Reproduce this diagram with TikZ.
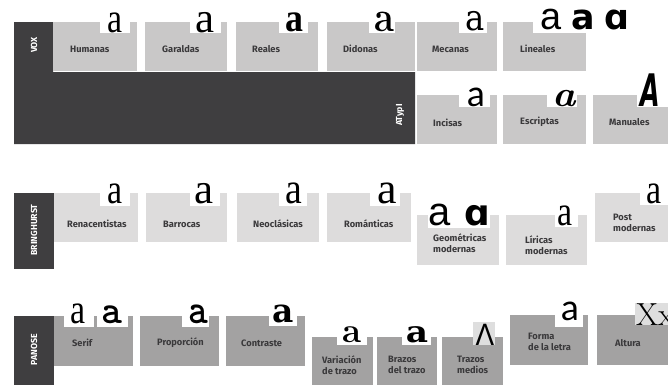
\documentclass[tikz,border=0pt]{standalone}
\usepackage{fontspec}
\usepackage{graphicx}
\newfontfamily\labf{Fira Sans}
\newfontfamily\dvsans{DejaVu Sans}
\newfontfamily\dvserif{DejaVu Serif}
\newfontfamily\lserif{Liberation Serif}
\newfontfamily\lsans{Liberation Sans}
\newfontfamily\latof{Lato}
\definecolor{darkc}{HTML}{3F3E40}
\definecolor{voxc}{HTML}{C9C8C8}
\definecolor{brinc}{HTML}{DDDCDC}
\definecolor{panc}{HTML}{A3A2A2}
\definecolor{labc}{HTML}{3A393B}
\definecolor{glbg}{HTML}{DEDEDE}
\newcommand\nbox[8]{\fill[#8] (#1,#2) rectangle (#3,#4); \fill[white] (#5,#2) rectangle (#6,#7);}
\newcommand\fs[1]{\fontsize{#1}{#1}\selectfont}
\begin{document}
\begin{tikzpicture}[x=1bp,y=-1bp,
  lab/.style={font=\labf\bfseries\fontsize{9.3}{10.5}\selectfont, text=labc, anchor=west, align=left, inner sep=0pt},
  vlab/.style={font=\labf\bfseries\fontsize{8.8}{10}\selectfont, text=white, rotate=90, inner sep=0pt},
  gl/.style={anchor=base, inner sep=0pt, text=black}]
\useasboundingbox (0,0) rectangle (668,385);
\fill[white] (0,0) rectangle (668,385);
% ---------- VOX ----------
\fill[darkc] (14,22) -- (53,22) -- (53,72) -- (415,72) -- (415,144) -- (14,144) -- cycle;
\nbox{53}{22}{137}{71}{100}{130}{33}{voxc}
\nbox{145}{22}{227}{71}{190}{221}{33}{voxc}
\nbox{236}{22}{318}{71}{279}{308}{33}{voxc}
\nbox{327}{22}{415}{71}{369}{395}{33}{voxc}
\nbox{417}{22}{497}{71}{459}{487}{33}{voxc}
\nbox{503}{22}{586}{71}{533}{586}{33}{voxc}
\nbox{417}{95}{497}{144}{459}{490}{107}{voxc}
\nbox{503}{95}{586}{144}{547}{577}{107}{voxc}
\nbox{593}{95}{668}{144}{637}{668}{107}{voxc}
\node[vlab] (vox) at (34,45) {VOX};
\node[vlab] (atypi) at (400,115) {ATypI};
\node[lab] (humanas) at (70,49) {Humanas};
\node[lab] (garaldas) at (162,49) {Garaldas};
\node[lab] (reales) at (252,49) {Reales};
\node[lab] (didonas) at (343,49) {Didonas};
\node[lab] (mecanas) at (432,49) {Mecanas};
\node[lab] (lineales) at (520,49) {Lineales};
\node[lab] (incisas) at (433,123) {Incisas};
\node[lab] (escriptas) at (520,122) {Escriptas};
\node[lab] (manuales) at (609,122) {Manuales};
\node[gl] (gHum) at (115,32) {\lserif\fs{40}\scalebox{0.85}[1.05]{a}};
\node[gl] (gGar) at (205,32) {\lserif\fs{43}a};
\node[gl] (gRea) at (294,31) {\lserif\bfseries\fs{40}\scalebox{0.9}[1]{a}};
\node[gl] (gDid) at (384,31) {\bfseries\fs{43}\scalebox{0.85}[1]{a}};
\node[gl] (gMec) at (475,30) {\dvserif\fs{36}\scalebox{0.9}[1]{a}};
\node[gl] (gLin1) at (551,29) {\lsans\fs{38}a};
\node[gl] (gLin2) at (583,29) {\dvsans\bfseries\fs{35}a};
\node[gl] (gLin3) at (617,29) {\dvsans\bfseries\fs{35}ɑ};
\node[gl] (gInc) at (476,106) {\latof\fs{36}a};
\node[gl] (gEsc) at (564,106) {\bfseries\itshape\fs{36}\scalebox{1.1}[1]{a}};
\node[gl] (gMan) at (650,106) {\dvsans\bfseries\itshape\fs{30}\scalebox{0.85}[1.5]{A}};
% ---------- BRINGHURST ----------
\fill[darkc] (14,193) rectangle (54,269);
\nbox{54}{193}{138}{242}{100}{130}{206}{brinc}
\nbox{146}{193}{227}{242}{190}{220}{206}{brinc}
\nbox{237}{193}{319}{242}{279}{307}{206}{brinc}
\nbox{327}{193}{411}{242}{370}{400}{206}{brinc}
\nbox{417}{215}{499}{265}{428}{490}{228}{brinc}
\nbox{506}{215}{587}{265}{555}{578}{227}{brinc}
\nbox{595}{193}{668}{242}{640}{668}{205}{brinc}
\node[vlab] (bringhurst) at (34,230) {BRINGHURST};
\node[lab] (renac) at (67,224) {Renacentistas};
\node[lab] (barrocas) at (163,224) {Barrocas};
\node[lab] (neoclas) at (253,224) {Neoclásicas};
\node[lab] (romant) at (344,224) {Románticas};
\node[lab] (geomet) at (433,243) {Geométricas\\modernas};
\node[lab] (liricas) at (525,245) {Líricas\\modernas};
\node[lab] (postmod) at (613,223) {Post\\modernas};
\node[gl] (gRen) at (115,203) {\lserif\fs{40}\scalebox{0.85}[1.05]{a}};
\node[gl] (gBar) at (204,203) {\lserif\fs{43}a};
\node[gl] (gNeo) at (294,203) {\lserif\fs{42}\scalebox{0.9}[1.05]{a}};
\node[gl] (gRom) at (387,203) {\lserif\fs{44}a};
\node[gl] (gGeo1) at (440,225) {\lsans\fs{40}a};
\node[gl] (gGeo2) at (477,225) {\dvsans\bfseries\fs{36}ɑ};
\node[gl] (gLir) at (565,225) {\lserif\fs{40}\scalebox{0.85}[1.05]{a}};
\node[gl] (gPost) at (654,203) {\lserif\fs{40}\scalebox{0.85}[1.05]{a}};
% ---------- PANOSE ----------
\fill[darkc] (14,316) rectangle (54,385);
\fill[panc] (54,316) rectangle (133,366);
\fill[white] (64,316) rectangle (94,327);
\fill[white] (97,316) rectangle (128,327);
\nbox{140}{316}{219}{366}{182}{209}{327}{panc}
\nbox{226}{316}{305}{366}{269}{297}{326}{panc}
\nbox{312}{337}{373}{385}{337}{367}{345}{panc}
\nbox{377}{337}{437}{385}{402}{431}{345}{panc}
\fill[panc] (442,337) rectangle (503,385);
\fill[glbg] (473,322) rectangle (495,345);
\nbox{510}{315}{588}{365}{555}{583}{327}{panc}
\fill[panc] (597,315) rectangle (668,365);
\fill[glbg] (635,303) rectangle (668,325);
\node[vlab] (panose) at (34,350) {PANOSE};
\node[lab] (serif) at (72,343) {Serif};
\node[lab] (proporcion) at (157,343) {Proporción};
\node[lab] (contraste) at (241,343) {Contraste};
\node[lab] (variacion) at (322,365) {Variación\\de trazo};
\node[lab] (brazos) at (388,365) {Brazos\\del trazo};
\node[lab] (trazos) at (457,365) {Trazos\\medios};
\node[lab] (forma) at (528,342) {Forma\\de la letra};
\node[lab] (altura) at (615,343) {Altura};
\node[gl] (gSer1) at (78,323) {\lserif\fs{40}\scalebox{0.85}[1.05]{a}};
\node[gl] (gSer2) at (112,323) {\ttfamily\bfseries\fs{40}a};
\node[gl] (gPro) at (198,323) {\ttfamily\bfseries\fs{42}\scalebox{0.9}[1]{a}};
\node[gl] (gCon) at (283,322) {\dvserif\bfseries\fs{33}a};
\node[gl] (gVar) at (352,342) {\bfseries\fs{35}a};
\node[gl] (gBra) at (417,342) {\dvserif\bfseries\fs{30}\scalebox{1.15}[1]{a}};
\node[gl] (gTra) at (485,345) {\lsans\fs{31}\scalebox{0.9}[1]{Λ}};
\node[gl] (gFor) at (570,320) {\latof\fs{36}a};
\node[gl, anchor=base west] (gAlt) at (636,325) {\fs{32}Xx};
\end{tikzpicture}
\end{document}
